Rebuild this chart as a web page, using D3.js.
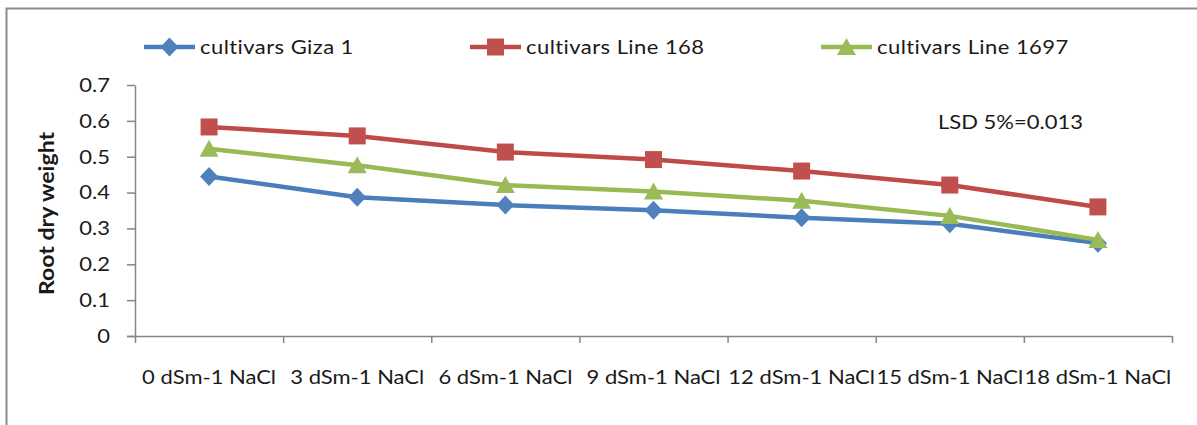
<!DOCTYPE html>
<html>
<head>
<meta charset="utf-8">
<script src="https://cdn.jsdelivr.net/npm/d3@7"></script>
<style>
  body { margin: 0; background: #fff; }
  svg text { font-family: Lato, "Open Sans", sans-serif; fill: #1a1a1a; }
</style>
</head>
<body>
<svg id="chart" width="1197" height="425"></svg>
<script>
// ---- data ----
const categories = ["0 dSm-1 NaCl", "3 dSm-1 NaCl", "6 dSm-1 NaCl", "9 dSm-1 NaCl",
                    "12 dSm-1 NaCl", "15 dSm-1 NaCl", "18 dSm-1 NaCl"];
const seriesNames = ["cultivars Giza 1", "cultivars Line 168", "cultivars Line 1697"];
const giza1    = [0.445, 0.387, 0.365, 0.351, 0.330, 0.313, 0.259];
const line168  = [0.583, 0.558, 0.513, 0.492, 0.460, 0.421, 0.360];
const line1697 = [0.522, 0.476, 0.421, 0.403, 0.377, 0.335, 0.268];
const yTicks = [0, 0.1, 0.2, 0.3, 0.4, 0.5, 0.6, 0.7];
const yTickLabels = ["0", "0.1", "0.2", "0.3", "0.4", "0.5", "0.6", "0.7"];
const yTitle = "Root dry weight";
const lsdNote = "LSD 5%=0.013";

// ---- layout & style ----
const W = 1197, H = 425;
const plot = { left: 135, right: 1172, top: 85, bottom: 336 };
const SX = 1.1;            // horizontal stretch of all text
const FS = 20;             // font size
const axisColor = "#868686";
const styles = [
  { line: "#4A7EBB", fill: "#4F81BD", shape: "diamond" },
  { line: "#BE4B48", fill: "#C0504D", shape: "square" },
  { line: "#98B954", fill: "#9BBB59", shape: "triangle" }
];
const legendX = [144, 470, 821];   // left end of each legend line sample
const legendY = 47;

const series = [giza1, line168, line1697].map((vals, i) => ({ name: seriesNames[i], vals, ...styles[i] }));

const svg = d3.select("#chart");

// outer chart frame
svg.append("rect")
  .attr("x", 6.5).attr("y", 8.5).attr("width", W + 20).attr("height", H + 20)
  .attr("fill", "none").attr("stroke", "#8c8c8c").attr("stroke-width", 2);

// scales
const x = d3.scaleBand().domain(categories).range([plot.left, plot.right]).padding(0);
const xEdge = d3.scaleLinear().domain([0, categories.length]).range([plot.left, plot.right]);
const y = d3.scaleLinear().domain([0, 0.7]).range([plot.bottom, plot.top]);

// y axis
const gy = svg.append("g").attr("transform", `translate(${plot.left},0)`)
  .call(d3.axisLeft(y).tickValues(yTicks).tickFormat((d, i) => yTickLabels[i])
        .tickSize(8).tickSizeOuter(0).tickPadding(17));
gy.select(".domain").attr("stroke", axisColor).attr("stroke-width", 1.5);
gy.selectAll(".tick line").attr("stroke", axisColor).attr("stroke-width", 1.5);
gy.selectAll(".tick text")
  .attr("font-size", FS).attr("font-family", null)
  .attr("x", -25 / SX)
  .attr("transform", `scale(${SX},1)`);

// x axis: boundary ticks
const gxe = svg.append("g").attr("transform", `translate(0,${plot.bottom})`)
  .call(d3.axisBottom(xEdge).tickValues(d3.range(categories.length + 1)).tickFormat("")
        .tickSize(7).tickSizeOuter(0));
gxe.select(".domain").attr("stroke", axisColor).attr("stroke-width", 1.5)
  .attr("d", `M${plot.left - 8},0.5H${plot.right}`);
gxe.selectAll(".tick line").attr("stroke", axisColor).attr("stroke-width", 1.5);

// x axis: category labels
const gx = svg.append("g").attr("transform", `translate(0,${plot.bottom})`)
  .call(d3.axisBottom(x).tickSize(0).tickPadding(34));
gx.select(".domain").remove();
gx.selectAll(".tick text")
  .attr("font-size", FS).attr("font-family", null)
  .attr("transform", `scale(${SX},1)`);

// y axis title
svg.append("text")
  .attr("transform", `translate(54,${(plot.top + plot.bottom) / 2 + 3}) rotate(-90) scale(${SX},1)`)
  .attr("text-anchor", "middle")
  .attr("font-size", FS + 1).attr("font-weight", "bold")
  .text(yTitle);

// marker shapes
function markerPath(shape) {
  if (shape === "diamond") return "M0,-9.5L9,0L0,9.5L-9,0Z";
  if (shape === "square") return "M-8.5,-8.5H8.5V8.5H-8.5Z";
  return "M0,-9L9.5,8H-9.5Z";
}

// lines and markers
const line = d3.line().x((d, i) => x(categories[i]) + x.bandwidth() / 2).y(d => y(d));
series.forEach(s => {
  const g = svg.append("g");
  g.append("path").datum(s.vals)
    .attr("d", line).attr("fill", "none")
    .attr("stroke", s.line).attr("stroke-width", 4.5).attr("stroke-linejoin", "round");
  g.selectAll("path.m").data(s.vals).join("path").attr("class", "m")
    .attr("transform", (d, i) => `translate(${x(categories[i]) + x.bandwidth() / 2},${y(d)})`)
    .attr("d", markerPath(s.shape))
    .attr("fill", s.fill);
});

// legend
series.forEach((s, i) => {
  const g = svg.append("g").attr("transform", `translate(${legendX[i]},${legendY})`);
  g.append("line").attr("x1", 0).attr("x2", 51).attr("y1", 0).attr("y2", 0)
    .attr("stroke", s.line).attr("stroke-width", 4.5);
  g.append("path").attr("transform", "translate(25.5,0)").attr("d", markerPath(s.shape)).attr("fill", s.fill);
  g.append("text").attr("transform", `translate(56,0) scale(${SX},1)`)
    .attr("dy", "0.36em").attr("font-size", FS).attr("letter-spacing", 0.4).text(s.name);
});

// LSD annotation
svg.append("text")
  .attr("transform", `translate(938,129) scale(${SX},1)`)
  .attr("font-size", FS).text(lsdNote);
</script>
</body>
</html>
